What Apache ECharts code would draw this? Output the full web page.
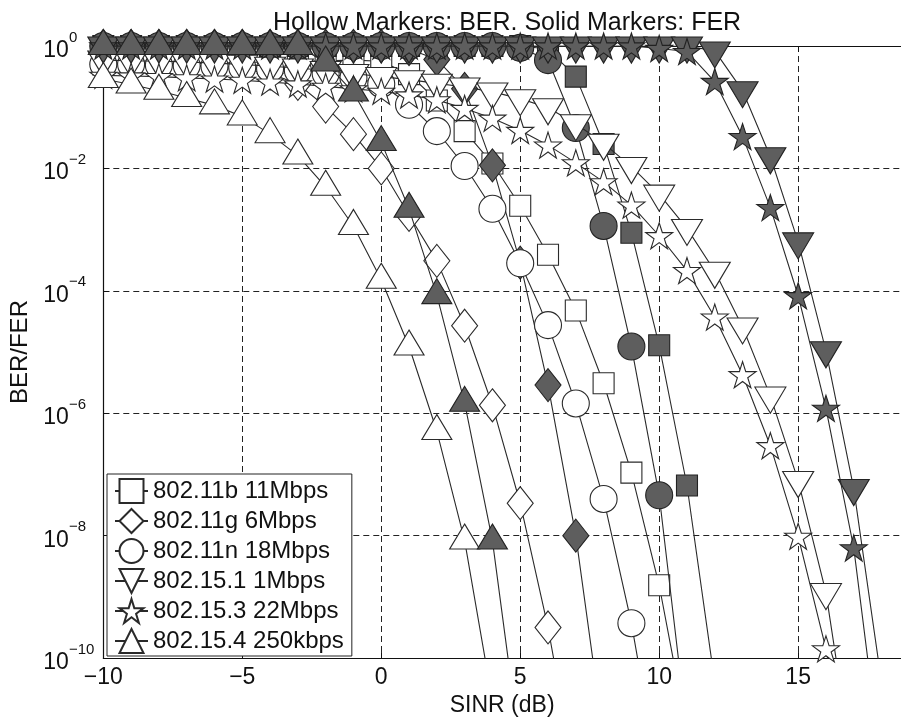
<!DOCTYPE html>
<html><head><meta charset="utf-8">
<script src="https://cdn.jsdelivr.net/npm/echarts@6/dist/echarts.min.js"></script>
<style>html,body{margin:0;padding:0;background:#fff}#c{width:901px;height:722px}</style>
</head><body><div id="c"></div>
<script>
// SINR grid (dB), one marker per dB
const snr = [-10,-9,-8,-7,-6,-5,-4,-3,-2,-1,0,1,2,3,4,5,6,7,8,9,10,11,12,13,14,15,16,17,18];
const xTicks = [-10,-5,0,5,10,15];
const yTickExponents = [-10,-8,-6,-4,-2,0];

// Values stored as log10(BER / FER), index 0 = -10 dB
const ber11b = [-0.3,-0.3,-0.29,-0.29,-0.28,-0.27,-0.26,-0.25,-0.24,-0.23,-0.25,-0.46,-0.89,-1.39,-1.92,-2.61,-3.41,-4.32,-5.51,-6.97,-8.81,-11.2];
const fer11b = [0,0,0,0,0,0,0,0,0,0,0,0,0,0,0,0,-0.05,-0.5,-1.6,-3.05,-4.89,-7.18,-10.4];
const ber11g = [-0.3,-0.3,-0.31,-0.32,-0.34,-0.38,-0.45,-0.62,-0.99,-1.44,-2.0,-2.76,-3.51,-4.57,-5.87,-7.47,-9.5,-12];
const fer11g = [0,0,0,0,0,0,0,0,0,0,0,-0.05,-0.22,-0.7,-1.95,-3.54,-5.54,-8.0,-11.3];
const ber11n = [-0.3,-0.3,-0.31,-0.32,-0.33,-0.35,-0.37,-0.4,-0.45,-0.52,-0.62,-0.96,-1.39,-1.96,-2.66,-3.55,-4.56,-5.84,-7.4,-9.43,-12];
const fer11n = [0,0,0,0,0,0,0,0,0,0,0,0,0,0,0,-0.03,-0.23,-1.34,-2.94,-4.91,-7.34,-11.2];
const ber151 = [-0.23,-0.24,-0.25,-0.26,-0.28,-0.3,-0.33,-0.36,-0.4,-0.45,-0.5,-0.55,-0.61,-0.67,-0.75,-0.86,-1.01,-1.27,-1.59,-1.97,-2.42,-2.98,-3.68,-4.59,-5.72,-7.1,-8.93,-11.9];
const fer151 = [0,0,0,0,0,0,0,0,0,0,0,0,0,0,0,0,0,0,0,0,0,0,-0.08,-0.73,-1.81,-3.2,-4.98,-7.23,-10.4];
const ber153 = [-0.48,-0.49,-0.5,-0.52,-0.54,-0.56,-0.59,-0.62,-0.66,-0.7,-0.74,-0.8,-0.88,-1.02,-1.18,-1.38,-1.62,-1.91,-2.22,-2.6,-3.1,-3.67,-4.43,-5.37,-6.53,-8.01,-9.85,-12.5];
const fer153 = [0,0,0,0,0,0,0,0,0,0,0,0,0,0,0,0,0,0,0,0,-0.04,-0.09,-0.58,-1.48,-2.64,-4.08,-5.92,-8.2,-11.8];
const ber154 = [-0.54,-0.63,-0.73,-0.85,-0.97,-1.15,-1.44,-1.79,-2.3,-2.94,-3.82,-4.91,-6.29,-8.08,-10.7];
const fer154 = [0,0,0,0,0,0,0,0,-0.27,-0.76,-1.57,-2.66,-4.07,-5.83,-8.08,-11.5];

const names = ['802.11b 11Mbps','802.11g 6Mbps','802.11n 18Mbps','802.15.1 1Mbps','802.15.3 22Mbps','802.15.4 250kbps'];
const berSets = [ber11b, ber11g, ber11n, ber151, ber153, ber154];
const ferSets = [fer11b, fer11g, fer11n, fer151, fer153, fer154];

const STAR = 'path://M50,0 L61.2,34.5 L97.6,34.5 L68.2,55.9 L79.4,90.5 L50,69.1 L20.6,90.5 L31.8,55.9 L2.4,34.5 L38.8,34.5 Z';
const DOWN = 'path://M0,0 L2,0 L1,1.7 Z';
const shapes = [
  {symbol:'rect', size:[21,21], off:[0,0]},
  {symbol:'diamond', size:[26,33], off:[0,0]},
  {symbol:'circle', size:[27,27], off:[0,0]},
  {symbol:DOWN, size:[31,26], off:[0,4]},
  {symbol:STAR, size:[27,26], off:[0,0]},
  {symbol:'triangle', size:[30,25], off:[0,-4]}
];

function toData(arr){ return arr.map((v,i)=>[snr[i], Math.pow(10, v)]); }

const series = [];
for (let k=0;k<6;k++){
  const sh = shapes[k];
  series.push({
    name: names[k], type:'line', data: toData(berSets[k]),
    symbol: sh.symbol, symbolSize: sh.size, symbolOffset: sh.off, showAllSymbol:true,
    clip:true,
    lineStyle:{color:'#2a2a2a', width:1.1},
    itemStyle:{color:'#ffffff', borderColor:'#2a2a2a', borderWidth:1.1},
    emphasis:{disabled:true}, z: 2 + k*0.1
  });
  series.push({
    name: names[k]+' FER', type:'line', data: toData(ferSets[k]),
    symbol: sh.symbol, symbolSize: sh.size, symbolOffset: sh.off, showAllSymbol:true,
    clip:true,
    lineStyle:{color:'#2a2a2a', width:1.1},
    itemStyle:{color:'#5e5e5e', borderColor:'#222', borderWidth:1.1},
    emphasis:{disabled:true}, z: 2 + k*0.1 + 0.05
  });
}

const fontFam = '"Liberation Sans", Arial, sans-serif';
const chart = echarts.init(document.getElementById('c'), null, {renderer:'canvas'});
chart.setOption({
  animation:false,
  backgroundColor:'#ffffff',
  title:{text:'Hollow Markers: BER. Solid Markers: FER', left:268, top:6,
    textStyle:{fontFamily:fontFam, fontSize:25, fontWeight:'normal', color:'#111'}},
  grid:{left:103.3, right:0, top:46, bottom:61, containLabel:false},
  legend:{data:names, orient:'vertical', left:107, top:474, itemWidth:33, itemHeight:30, itemGap:4,
    padding:[4,8,2,7], borderColor:'#222', borderWidth:1, backgroundColor:'#fff', borderRadius:0,
    textStyle:{fontFamily:fontFam, fontSize:24, color:'#111'}, selectedMode:false, z:10},
  xAxis:[{
    type:'value', min:-10, max:18.7, interval:5, position:'bottom',
    name:'SINR (dB)', nameLocation:'middle', nameGap:34,
    nameTextStyle:{fontFamily:fontFam, fontSize:23, color:'#111'},
    axisLine:{show:true, onZero:false, lineStyle:{color:'#111', width:1.2}},
    axisTick:{show:true, inside:true, length:6, lineStyle:{color:'#111'}},
    axisLabel:{fontFamily:fontFam, fontSize:23, color:'#111', margin:8, showMaxLabel:false,
      formatter:v=> xTicks.indexOf(v)<0 ? '' : (v<0 ? '\u2212'+Math.abs(v) : String(v))},
    splitLine:{show:true, showMinLine:false, showMaxLine:false, lineStyle:{color:'#222', type:[6,4], width:1}}
  },{
    type:'value', min:-10, max:18.7, interval:5, position:'top',
    axisLine:{show:true, onZero:false, lineStyle:{color:'#111', width:1.2}},
    axisTick:{show:true, inside:true, length:6, lineStyle:{color:'#111'}},
    axisLabel:{show:false}, splitLine:{show:false}
  }],
  yAxis:{
    type:'log', logBase:10, min:1e-10, max:1, interval:2,
    name:'BER/FER', nameLocation:'middle', nameGap:68, nameRotate:90,
    nameTextStyle:{fontFamily:fontFam, fontSize:24, color:'#111'},
    axisLine:{show:true, onZero:false, lineStyle:{color:'#111', width:1.2}},
    axisTick:{show:true, inside:true, length:6, lineStyle:{color:'#111'}},
    axisLabel:{margin:60, align:'left', color:'#111',
      formatter:function(v){
        const e = Math.round(Math.log10(v));
        if (yTickExponents.indexOf(e)<0) return '';
        const s = e<0 ? '\u2212'+(-e) : String(e);
        return '{b|10}{s|'+s+'}';
      },
      rich:{
        b:{fontFamily:fontFam, fontSize:23, color:'#111', lineHeight:32, verticalAlign:'bottom'},
        s:{fontFamily:fontFam, fontSize:15, color:'#111', lineHeight:14, verticalAlign:'top'}
      }},
    splitLine:{show:true, showMinLine:false, lineStyle:{color:'#222', type:[6,4], width:1}}
  },
  series: series
});
</script></body></html>
